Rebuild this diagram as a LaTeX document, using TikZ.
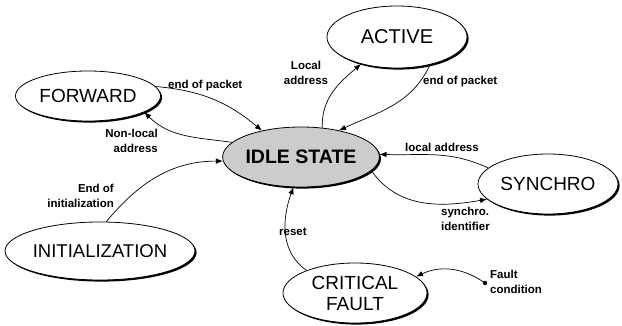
\documentclass[tikz,border=0pt]{standalone}
\usepackage{fontspec}
\setmainfont{Liberation Sans}
\usetikzlibrary{shapes.geometric,arrows.meta,shadows}
\begin{document}
\begin{tikzpicture}[x=1pt,y=-1pt,
  state/.style={ellipse, draw, line width=0.8pt, fill=white, inner sep=0pt,
    align=center, font=\fontsize{19}{21}\selectfont,
    drop shadow={shadow xshift=1.6pt, shadow yshift=-1.6pt, opacity=1, fill=black}},
  conn/.style={line width=0.7pt, -{Latex[length=7pt,width=5.5pt]}},
  lbl/.style={font=\fontsize{11.5}{15}\selectfont\bfseries, inner sep=0pt}]
\useasboundingbox (0,0) rectangle (622,326);

% states
\node[state, minimum width=145pt, minimum height=50pt] (forward) at (88,96) {FORWARD};
\node[state, minimum width=140pt, minimum height=62pt,
  font=\fontsize{20}{22}\selectfont] (active) at (397,37) {ACTIVE};
\node[state, minimum width=147pt, minimum height=60pt, fill=gray!40,
  font=\fontsize{19.5}{21}\selectfont\bfseries] (idle) at (301,157) {IDLE STATE};
\node[state, minimum width=140pt, minimum height=60pt] (synchro) at (548,184) {SYNCHRO};
\node[state, minimum width=185pt, minimum height=58pt,
  font=\fontsize{18.5}{20}\selectfont] (init) at (100,251) {INITIALIZATION};
\node[state, minimum width=144pt, minimum height=60pt] (cf) at (355,293) {CRITICAL\\FAULT};

% fault source
\coordinate (fault) at (485,283);
\fill (fault) circle (2.2pt);

% connectors
\draw[conn] (forward.8) to[out=-5, in=140] (idle.146);
\draw[conn] (idle.168) to[out=172, in=-45] (forward.-16);
\draw[conn] (init.78) to[out=50, in=180] (idle.183);
\draw[conn] (idle.54) to[out=92, in=-140] (active.-143);
\draw[conn] (active.-40) to[out=-115, in=25] (idle.35);
\draw[conn] (synchro.165) to[out=155, in=-2] (idle.2);
\draw[conn] (idle.-11) to[out=-55, in=190] (synchro.-166);
\draw[conn] (cf.155) to[out=145, in=-110] (idle.-104);
\draw[conn] (fault) to[out=145, in=25] (cf.15);

% labels
\node[lbl, anchor=west] (l1) at (168,86) {end of packet};
\node[lbl, anchor=east, align=right] (l2) at (158,141) {Non-local\\address};
\node[lbl, align=center] (l3) at (306,73) {Local\\address};
\node[lbl, anchor=west] (l4) at (423,82) {end of packet};
\node[lbl, anchor=west] (l5) at (405,147) {local address};
\node[lbl, anchor=north west, align=left] (l6) at (441,207) {synchro.\\identifier};
\node[lbl, anchor=west, align=left] (l7) at (490,282) {Fault\\condition};
\node[lbl, anchor=east, align=right] (l8) at (114,196) {End of\\initialization};
\node[lbl, anchor=west] (l9) at (279,232) {reset};
\end{tikzpicture}
\end{document}
